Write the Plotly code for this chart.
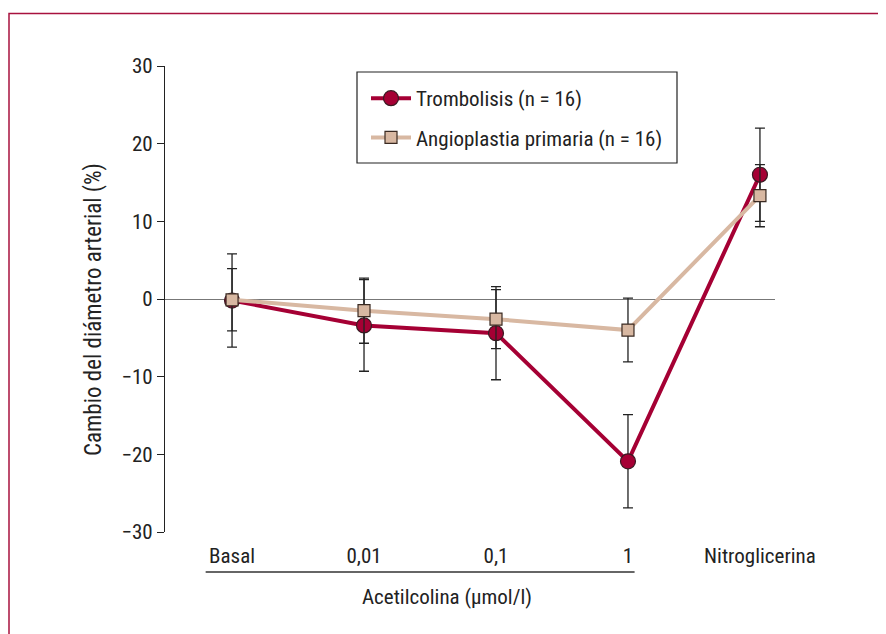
import plotly.graph_objects as go

categories = ["Basal", "0,01", "0,1", "1", "Nitroglicerina"]
x_idx = [0, 1, 2, 3, 4]

trombolisis = [-0.2, -3.4, -4.4, -20.9, 16.0]
trombolisis_err = [6.0, 5.9, 6.0, 6.0, 6.0]

angioplastia = [-0.1, -1.5, -2.6, -4.0, 13.3]
angioplastia_err = [4.0, 4.2, 3.8, 4.1, 4.0]

y_ticks = [-30, -20, -10, 0, 10, 20, 30]

FONT = "Liberation Sans Narrow, Roboto Condensed, Roboto, Arial, sans-serif"
FS = 21
RED = "#A50034"
TAN = "#D8B8A2"
TXT = "#222222"

fig = go.Figure()
fig.add_trace(go.Scatter(
    x=x_idx, y=trombolisis, mode="lines+markers", name="Trombolisis (n = 16)",
    line=dict(color=RED, width=4),
    marker=dict(symbol="circle", size=15, color=RED, line=dict(color="#3a1a22", width=1.2)),
    error_y=dict(type="data", array=trombolisis_err, color=TXT, thickness=1.3, width=5),
    legendgroup="a",
))
fig.add_trace(go.Scatter(
    x=x_idx, y=angioplastia, mode="lines+markers", name="Angioplastia primaria (n = 16)",
    line=dict(color=TAN, width=4),
    marker=dict(symbol="square", size=12, color=TAN, line=dict(color="#3a2a22", width=1.2)),
    error_y=dict(type="data", array=angioplastia_err, color=TXT, thickness=1.3, width=5),
    legendgroup="b",
))

OFF = 8  # page body margin
W, H = 886, 634
L, T = 165 - OFF, 66 - OFF
R, B = W - (775 - OFF), H - (532 - OFF)
pw, ph = W - L - R, H - T - B

def px2paper_x(p):
    return (p - OFF - L) / pw

def px2paper_y(p):
    return 1 - (p - OFF - T) / ph

shapes = [
    # outer frame
    dict(type="rect", xref="paper", yref="paper",
         x0=px2paper_x(9), x1=px2paper_x(920), y0=px2paper_y(680), y1=px2paper_y(13.5),
         line=dict(color="#A8123E", width=1.5), layer="below"),
    # legend box
    dict(type="rect", xref="paper", yref="paper",
         x0=px2paper_x(357), x1=px2paper_x(677), y0=px2paper_y(163), y1=px2paper_y(72),
         line=dict(color=TXT, width=1.2)),
    # bracket line under acetylcholine doses
    dict(type="line", xref="x", yref="paper",
         x0=-0.2, x1=3.05, y0=px2paper_y(572), y1=px2paper_y(572),
         line=dict(color="#333333", width=1.3)),
]

fig.update_layout(
    width=W, height=H,
    margin=dict(l=L, r=R, t=T, b=B),
    paper_bgcolor="white", plot_bgcolor="white",
    font=dict(family=FONT, size=FS, color=TXT),
    shapes=shapes,
    showlegend=True,
    legend=dict(x=px2paper_x(366), y=px2paper_y(78), xanchor="left", yanchor="top",
                bgcolor="rgba(0,0,0,0)", borderwidth=0,
                font=dict(family=FONT, size=FS, color=TXT),
                tracegroupgap=9, itemwidth=40),
    annotations=[
        dict(text="Acetilcolina (µmol/l)", x=1.63, xref="x",
             y=px2paper_y(597), yref="paper", showarrow=False,
             xanchor="center", yanchor="middle",
             font=dict(family=FONT, size=FS, color=TXT)),
        dict(text="Cambio del diámetro arterial (%)", textangle=-90,
             x=px2paper_x(93), xref="paper", y=px2paper_y(310), yref="paper",
             showarrow=False, xanchor="center", yanchor="middle",
             font=dict(family=FONT, size=23, color=TXT)),
    ],
)

fig.update_xaxes(
    range=[-0.508, 4.114], tickvals=x_idx, ticktext=categories,
    showline=False, showgrid=False, zeroline=False,
    ticks="outside", ticklen=5, tickcolor="rgba(0,0,0,0)",
    tickfont=dict(family=FONT, size=FS, color=TXT),
)
fig.update_yaxes(
    range=[-30, 30], tickvals=y_ticks, showgrid=False,
    showline=True, linecolor=TXT, linewidth=1.2,
    ticks="outside", ticklen=7, tickwidth=1.2, tickcolor=TXT,
    zeroline=True, zerolinecolor="#777777", zerolinewidth=1.2,
    tickfont=dict(family=FONT, size=FS, color=TXT),
)

fig.write_html("out.html")
